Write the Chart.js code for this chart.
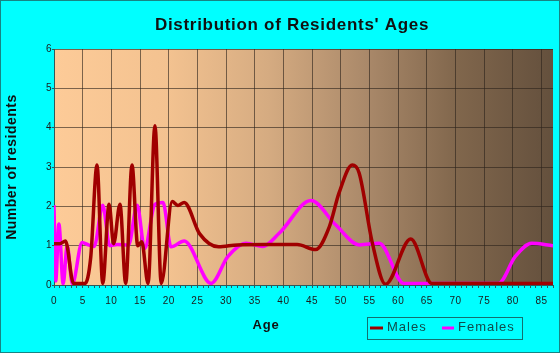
<!DOCTYPE html>
<html><head><meta charset="utf-8">
<script src="https://cdn.jsdelivr.net/npm/chart.js@4.4.1/dist/chart.umd.min.js"></script>
<style>html,body{margin:0;padding:0;background:#00ffff;}#wrap{position:relative;width:560px;height:353px;}</style>
</head><body><div id="wrap"><canvas id="c"></canvas></div>
<script>
const chartTitle = "Distribution of Residents' Ages";
const xAxisTitle = "Age";
const yAxisTitle = "Number of residents";
const seriesNames = ["Males", "Females"];
const xTickStep = 5;
const xMax = 87;
const yMax = 6;

const maleAges   = [0, 1, 2, 3.4, 4.2, 5.4, 6.4, 7.5, 8.5, 9.6, 10.4, 11.5, 12.5, 13.6, 14.6, 15.3, 16.4, 17.6, 18.7, 20.6, 21.6, 22.7, 25.4, 28.7, 32, 37, 42.4, 45.6, 48, 49.7, 52, 53.2, 55.5, 57.8, 62.2, 65.9, 87];
const maleCounts = [1.05, 1.05, 1.12, 0.04, 0.04, 0.04, 0.7, 3.05, 0.04, 2.05, 1.05, 2.05, 0.04, 3.05, 1.0, 1.1, 0.04, 4.05, 0.04, 2.12, 2.02, 2.1, 1.3, 0.97, 1.02, 1.03, 1.03, 0.9, 1.48, 2.34, 3.05, 2.85, 1.07, 0.02, 1.17, 0.04, 0.04];

const femaleAges   = [0, 0.3, 0.85, 1.6, 2.3, 3.2, 4.9, 6.0, 7.0, 8.5, 9.7, 11, 13, 14.5, 15.8, 17.6, 19.0, 20.4, 22.7, 27.4, 30.3, 33.5, 36.4, 39.3, 44.8, 49.1, 53.2, 56.7, 61, 77.5, 80.4, 83.3, 87];
const femaleCounts = [2.03, 0.1, 1.55, 0.03, 1.0, 0.03, 1.08, 1.02, 0.98, 2.03, 1.0, 1.03, 1.02, 2.03, 0.93, 2.05, 2.1, 0.97, 1.12, 0.04, 0.72, 1.06, 0.98, 1.32, 2.15, 1.53, 1.02, 1.06, 0.04, 0.04, 0.72, 1.06, 1.0];

const toPoints = (xs, ys) => xs.map((x, i) => ({ x: x, y: ys[i] }));

const PLOT = { left: 54, right: 555, top: 49, bottom: 285 };
const W = 560, H = 353;
const gridColor = 'rgba(45,35,28,0.62)';
const axisColor = '#2f5a5a';

const bgPlugin = {
  id: 'bg',
  beforeDraw(chart) {
    const ctx = chart.ctx, a = chart.chartArea;
    ctx.save();
    const g = ctx.createLinearGradient(a.left, 0, a.right, 0);
    g.addColorStop(0, '#fdcb98');
    g.addColorStop(0.23, '#f3c290');
    g.addColorStop(0.43, '#d5ab81');
    g.addColorStop(0.63, '#a98869');
    g.addColorStop(0.81, '#80664c');
    g.addColorStop(1, '#64503d');
    ctx.fillStyle = g;
    ctx.fillRect(a.left, a.top, a.right - a.left, a.bottom - a.top);
    ctx.restore();
    ctx.letterSpacing = '0.5px';
  }
};

const textPlugin = {
  id: 'texts',
  afterDraw(chart) {
    const ctx = chart.ctx;
    ctx.save();
    ctx.fillStyle = '#111';
    ctx.letterSpacing = '0.7px';
    ctx.font = 'bold 17px "Liberation Sans", Arial, sans-serif';
    ctx.textAlign = 'center';
    ctx.textBaseline = 'alphabetic';
    ctx.fillText(chartTitle, 292, 30);
    ctx.save();
    ctx.translate(12, 167);
    ctx.rotate(-Math.PI / 2);
    ctx.letterSpacing = '0.5px';
    ctx.font = 'bold 14px "Liberation Sans", Arial, sans-serif';
    ctx.textBaseline = 'middle';
    ctx.fillText(yAxisTitle, 0, 0);
    ctx.restore();
    ctx.letterSpacing = '0.8px';
    ctx.font = 'bold 13px "Liberation Sans", Arial, sans-serif';
    ctx.textBaseline = 'middle';
    ctx.fillText(xAxisTitle, 266, 325);
    ctx.strokeStyle = '#137070';
    ctx.lineWidth = 1;
    ctx.strokeRect(367.5, 317.5, 155, 22);
    const ds = chart.data.datasets;
    const items = [{ x0: 370, x1: 383, tx: 387 }, { x0: 442, x1: 454, tx: 458 }];
    items.forEach((it, i) => {
      ctx.strokeStyle = ds[i].borderColor;
      ctx.lineWidth = 3;
      ctx.beginPath();
      ctx.moveTo(it.x0, 328);
      ctx.lineTo(it.x1, 328);
      ctx.stroke();
      ctx.fillStyle = '#0f4c4c';
      ctx.letterSpacing = '1px';
      ctx.font = '13px "Liberation Sans", Arial, sans-serif';
      ctx.textAlign = 'left';
      ctx.textBaseline = 'middle';
      ctx.fillText(seriesNames[i], it.tx, 327.5);
    });
    ctx.strokeStyle = '#178484';
    ctx.lineWidth = 1;
    ctx.strokeRect(0.5, 0.5, W - 1, H - 1);
    ctx.restore();
  }
};

new Chart(document.getElementById('c'), {
  type: 'line',
  data: {
    datasets: [
      { label: seriesNames[0], data: toPoints(maleAges, maleCounts), borderColor: '#a00000', borderWidth: 3.5, pointRadius: 0, cubicInterpolationMode: 'monotone', fill: false },
      { label: seriesNames[1], data: toPoints(femaleAges, femaleCounts), borderColor: '#ff00ff', borderWidth: 3.5, pointRadius: 0, cubicInterpolationMode: 'monotone', fill: false }
    ]
  },
  options: {
    responsive: true,
    maintainAspectRatio: false,
    animation: false,
    events: [],
    layout: { padding: { top: PLOT.top, right: W - PLOT.right, bottom: 0, left: 0 } },
    plugins: { legend: { display: false }, title: { display: false }, tooltip: { enabled: false } },
    scales: {
      x: {
        type: 'linear', min: 0, max: xMax,
        afterFit(s) { s.height = H - PLOT.bottom; },
        ticks: {
          stepSize: 1, autoSkip: false, maxRotation: 0, minRotation: 0,
          callback: v => (v % xTickStep === 0 ? String(v) : ''),
          font: { size: 10, family: '"Liberation Sans", Arial, sans-serif' }, color: '#1a1a1a', padding: 7
        },
        grid: {
          color: c => (c.tick && c.tick.value % xTickStep === 0 && c.tick.value > 0 ? gridColor : 'rgba(0,0,0,0)'),
          tickColor: axisColor, tickLength: 3, lineWidth: 1
        },
        border: { display: true, color: axisColor, width: 1 }
      },
      y: {
        min: 0, max: yMax,
        afterFit(s) { s.width = PLOT.left; },
        ticks: { stepSize: 1, font: { size: 10, family: '"Liberation Sans", Arial, sans-serif' }, color: '#1a1a1a', padding: 0 },
        grid: { color: c => (c.tick && c.tick.value > 0 ? gridColor : 'rgba(0,0,0,0)'), tickColor: axisColor, tickLength: 2, lineWidth: 1 },
        border: { display: true, color: axisColor, width: 1 }
      }
    }
  },
  plugins: [bgPlugin, textPlugin]
});
</script></body></html>
